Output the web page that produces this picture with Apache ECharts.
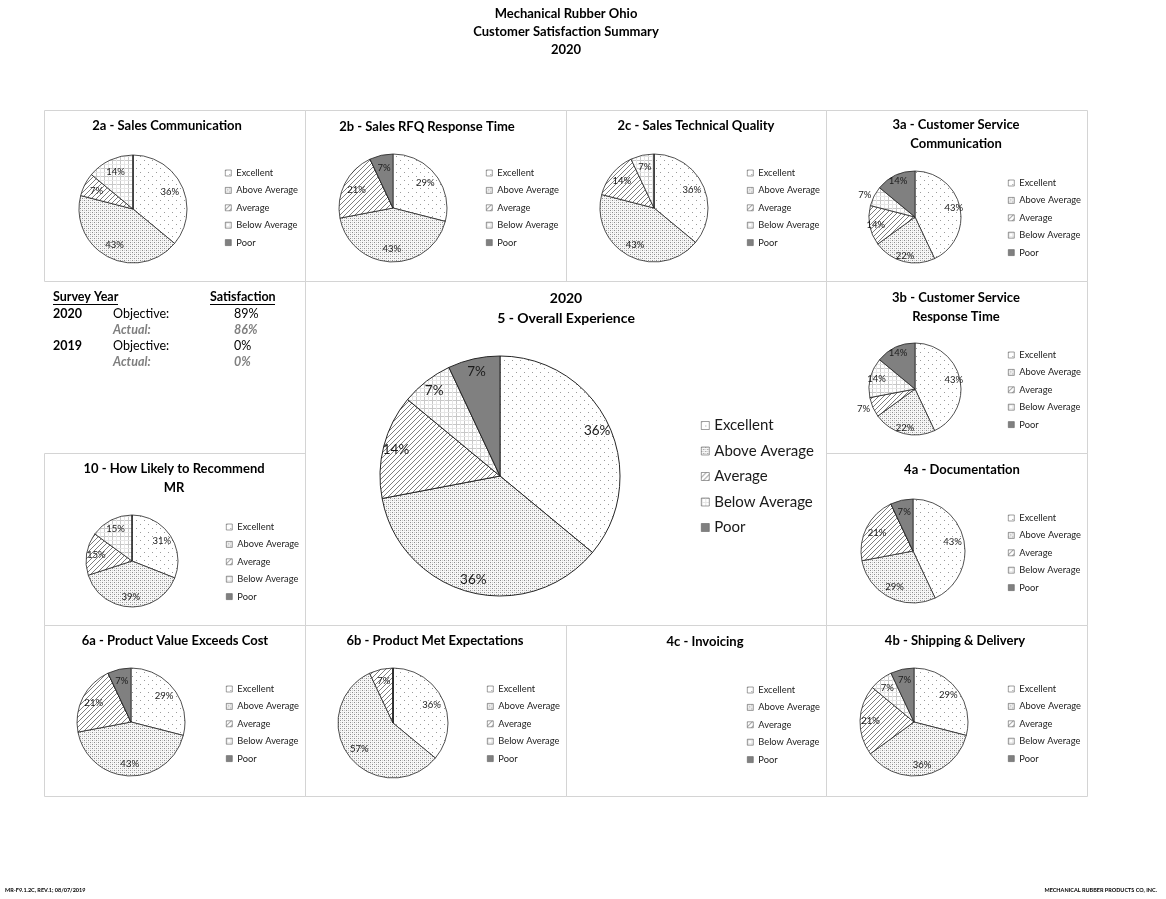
<!DOCTYPE html>
<html><head><meta charset="utf-8">
<script src="https://cdn.jsdelivr.net/npm/echarts@6/dist/echarts.min.js"></script>
<style>html,body{margin:0;padding:0;background:#fff}#chart{width:1166px;height:899px}</style>
</head><body><div id="chart"></div>
<script>
// ---------- DATA ----------
const categories = ['Excellent', 'Above Average', 'Average', 'Below Average', 'Poor'];
const mainTitleLines = ['Mechanical Rubber Ohio', 'Customer Satisfaction Summary', '2020'];
const values2a = [36, 43, 7, 14, 0];
const values2b = [29, 43, 21, 0, 7];
const values2c = [36, 43, 14, 7, 0];
const values3a = [43, 22, 14, 7, 14];
const values3b = [43, 22, 7, 14, 14];
const values5  = [36, 36, 14, 7, 7];
const values10 = [31, 39, 15, 15, 0];
const values4a = [43, 29, 21, 0, 7];
const values6a = [29, 43, 21, 0, 7];
const values6b = [36, 57, 7, 0, 0];
const values4c = [];
const values4b = [29, 36, 21, 7, 7];
const surveyHeaders = ['Survey Year', 'Satisfaction'];
const surveyYears = ['2020', '2019'];
const surveyRowLabels = ['Objective:', 'Actual:'];
const objectiveValues = [89, 0];
const actualValues = [86, 0];
const footerLeft = 'MR-F9.1.2C, REV.1; 08/07/2019';
const footerRight = 'MECHANICAL RUBBER PRODUCTS CO, INC.';

// ---------- PATTERNS ----------
function pattern(w, h, draw) {
  const c = document.createElement('canvas');
  c.width = w; c.height = h;
  const ctx = c.getContext('2d');
  ctx.fillStyle = '#ffffff'; ctx.fillRect(0, 0, w, h);
  draw(ctx);
  return { image: c, repeat: 'repeat' };
}
const fills = [
  pattern(8, 8, ctx => { ctx.fillStyle = '#9a9a9a'; ctx.fillRect(0, 0, 1, 1); ctx.fillRect(4, 4, 1, 1); }),
  pattern(4, 4, ctx => {
    ctx.fillStyle = '#f7f7f7'; ctx.fillRect(0, 0, 4, 4);
    ctx.fillStyle = '#8c8c8c'; ctx.fillRect(0, 0, 1, 1); ctx.fillRect(2, 2, 1, 1);
    ctx.fillStyle = '#cccccc'; ctx.fillRect(0, 2, 1, 1); ctx.fillRect(2, 0, 1, 1);
  }),
  pattern(5, 5, ctx => { ctx.fillStyle = '#7e7e7e'; for (let i = 0; i < 5; i++) ctx.fillRect(i, 4 - i, 1, 1); }),
  pattern(8, 8, ctx => { ctx.fillStyle = '#c8c8c8'; ctx.fillRect(0, 0, 8, 1); ctx.fillRect(0, 0, 1, 8); ctx.fillStyle = '#e6e6e6'; ctx.fillRect(0, 4, 8, 1); ctx.fillRect(4, 0, 1, 8); }),
  '#808080'
];

// ---------- LAYOUT ----------
const FONT = 'Lato, "Liberation Sans", sans-serif';
const panels = [
  { title: ['2a - Sales Communication'], values: values2a, box: [44, 110, 261, 171], tx: 167, ty: 126, cx: 133, cy: 209, r: 54, k: 0.7, lx: 225, ly: 173 },
  { title: ['2b - Sales RFQ Response Time'], values: values2b, box: [305, 110, 261, 171], tx: 427, ty: 127, cx: 393, cy: 208, r: 54, k: 0.7, lx: 486, ly: 173 },
  { title: ['2c - Sales Technical Quality'], values: values2c, box: [566, 110, 260, 171], tx: 696, ty: 126, cx: 654, cy: 208, r: 54, k: 0.72, lx: 747, ly: 173 },
  { title: ['3a - Customer Service', 'Communication'], values: values3a, box: [826, 110, 261, 171], tx: 956, ty: 125, cx: 915, cy: 217, r: 46, k: 0.8, lx: 1008, ly: 183, outside: [3] },
  { title: ['3b - Customer Service', 'Response Time'], values: values3b, box: [826, 281, 261, 172], tx: 956, ty: 298, cx: 915, cy: 389, r: 46, k: 0.8, lx: 1008, ly: 355, outside: [2] },
  { title: ['2020', '5 - Overall Experience'], values: values5, box: [305, 281, 521, 344], tx: 566, ty: 298, cx: 500, cy: 476, r: 120, k: 0.87, lx: 701, ly: 425.5, big: true },
  { title: ['10 - How Likely to Recommend', 'MR'], values: values10, box: [44, 453, 261, 172], tx: 174, ty: 469, cx: 132, cy: 561, r: 46, k: 0.72, lx: 226, ly: 527 },
  { title: ['4a - Documentation'], values: values4a, box: [826, 453, 261, 172], tx: 962, ty: 470, cx: 913, cy: 551, r: 52, k: 0.72, lx: 1008, ly: 518 },
  { title: ['6a - Product Value Exceeds Cost'], values: values6a, box: [44, 625, 261, 171], tx: 175, ty: 641, cx: 131, cy: 722, r: 54, k: 0.72, lx: 226, ly: 689 },
  { title: ['6b - Product Met Expectations'], values: values6b, box: [305, 625, 261, 171], tx: 435, ty: 641, cx: 393, cy: 723, r: 55, k: 0.72, lx: 487, ly: 689 },
  { title: ['4c - Invoicing'], values: values4c, box: [566, 625, 260, 171], tx: 705, ty: 642, cx: 0, cy: 0, r: 0, k: 0.7, lx: 747, ly: 690 },
  { title: ['4b - Shipping & Delivery'], values: values4b, box: [826, 625, 261, 171], tx: 955, ty: 641, cx: 914, cy: 722, r: 54, k: 0.75, lx: 1008, ly: 689 }
];

const series = [], labelSeries = [], legends = [], graphics = [];

graphics.push({ type: 'rect', shape: { x: 0, y: 0, width: 1166, height: 899 }, style: { fill: '#fff' }, z: -10 });

mainTitleLines.forEach((t, i) => {
  graphics.push({ type: 'text', x: 566, y: 14 + i * 18, style: { text: t, font: 'bold 13px ' + FONT, fill: '#000', align: 'center', verticalAlign: 'middle' } });
});

panels.forEach(p => {
  const [bx, by, bw, bh] = p.box;
  graphics.push({ type: 'rect', shape: { x: bx + 0.5, y: by + 0.5, width: bw, height: bh }, style: { fill: 'none', stroke: '#d4d4d4', lineWidth: 1 }, z: 1 });
  p.title.forEach((t, i) => {
    graphics.push({ type: 'text', x: p.tx, y: p.ty + i * (p.big ? 20 : 19), style: { text: t, font: 'bold ' + (p.big ? 14 : 13) + 'px ' + FONT, fill: '#000', align: 'center', verticalAlign: 'middle' } });
  });
  const lh = p.big ? 17 : 10;
  legends.push({
    orient: 'vertical', left: p.lx, top: p.ly - lh / 2, padding: 0,
    itemGap: p.big ? 8.5 : 7.4, itemWidth: p.big ? 8 : 6, itemHeight: p.big ? 8 : 6,
    icon: 'rect', selectedMode: false, data: categories,
    itemStyle: { borderColor: '#606060', borderWidth: 0.6 },
    textStyle: { fontFamily: FONT, fontSize: p.big ? 15 : 9.3, lineHeight: lh, color: '#1a1a1a' }
  });
  if (!p.values.length) return;
  series.push({
    type: 'pie', silent: true, center: [p.cx, p.cy], radius: [0, p.r], startAngle: 90, clockwise: true,
    label: { show: false }, labelLine: { show: false }, emphasis: { disabled: true },
    itemStyle: { borderColor: '#262626', borderWidth: p.big ? 1 : 0.8 },
    data: p.values.map((v, i) => ({ name: categories[i], value: v, itemStyle: { color: fills[i] } }))
  });
  labelSeries.push({
    type: 'pie', silent: true, center: [p.cx, p.cy], radius: [(2 * p.k - 1) * p.r, p.r], startAngle: 90, clockwise: true,
    itemStyle: { color: 'rgba(0,0,0,0)', borderWidth: 0 }, emphasis: { disabled: true },
    label: { show: true, position: 'inside', fontFamily: FONT, fontSize: p.big ? 13.5 : 9.5, color: '#1a1a1a',
      formatter: q => q.value > 0 ? q.value + '%' : '' },
    labelLine: { show: false },
    data: p.values.map((v, i) => {
      const d = { name: categories[i], value: v };
      if (p.outside && p.outside.includes(i)) {
        d.label = { position: 'outside', distanceToLabelLine: 0 };
        d.labelLine = { show: false, length: 3, length2: 0 };
      }
      return d;
    })
  });
});

// Survey table
graphics.push({ type: 'text', x: 53, y: 297, style: { text: surveyHeaders[0], font: 'bold 12.5px ' + FONT, fill: '#000', verticalAlign: 'middle' } });
graphics.push({ type: 'line', shape: { x1: 53, y1: 304.5, x2: 118, y2: 304.5 }, style: { stroke: '#000', lineWidth: 1 } });
graphics.push({ type: 'text', x: 210, y: 297, style: { text: surveyHeaders[1], font: 'bold 12.5px ' + FONT, fill: '#000', verticalAlign: 'middle' } });
graphics.push({ type: 'line', shape: { x1: 210, y1: 304.5, x2: 275, y2: 304.5 }, style: { stroke: '#000', lineWidth: 1 } });
surveyYears.forEach((yr, i) => {
  const y0 = 313.5 + i * 32;
  graphics.push({ type: 'text', x: 53, y: y0, style: { text: yr, font: 'bold 12.5px ' + FONT, fill: '#000', verticalAlign: 'middle' } });
  graphics.push({ type: 'text', x: 113, y: y0, style: { text: surveyRowLabels[0], font: '12.5px ' + FONT, fill: '#000', verticalAlign: 'middle' } });
  graphics.push({ type: 'text', x: 234, y: y0, style: { text: objectiveValues[i] + '%', font: '12.5px ' + FONT, fill: '#000', verticalAlign: 'middle' } });
  graphics.push({ type: 'text', x: 113, y: y0 + 16, style: { text: surveyRowLabels[1], font: 'italic bold 12.5px ' + FONT, fill: '#7f7f7f', verticalAlign: 'middle' } });
  graphics.push({ type: 'text', x: 234, y: y0 + 16, style: { text: actualValues[i] + '%', font: 'italic bold 12.5px ' + FONT, fill: '#7f7f7f', verticalAlign: 'middle' } });
});

// Footer
graphics.push({ type: 'text', x: 5, y: 890, style: { text: footerLeft, font: 'bold 5.5px ' + FONT, fill: '#000', verticalAlign: 'middle' } });
graphics.push({ type: 'text', x: 1157, y: 890, style: { text: footerRight, font: 'bold 5.5px ' + FONT, fill: '#000', align: 'right', verticalAlign: 'middle' } });

const chart = echarts.init(document.getElementById('chart'), null, { renderer: 'canvas' });
chart.setOption({
  backgroundColor: '#fff',
  animation: false,
  legend: legends,
  series: series.concat(labelSeries),
  graphic: { elements: graphics }
});
</script></body></html>
